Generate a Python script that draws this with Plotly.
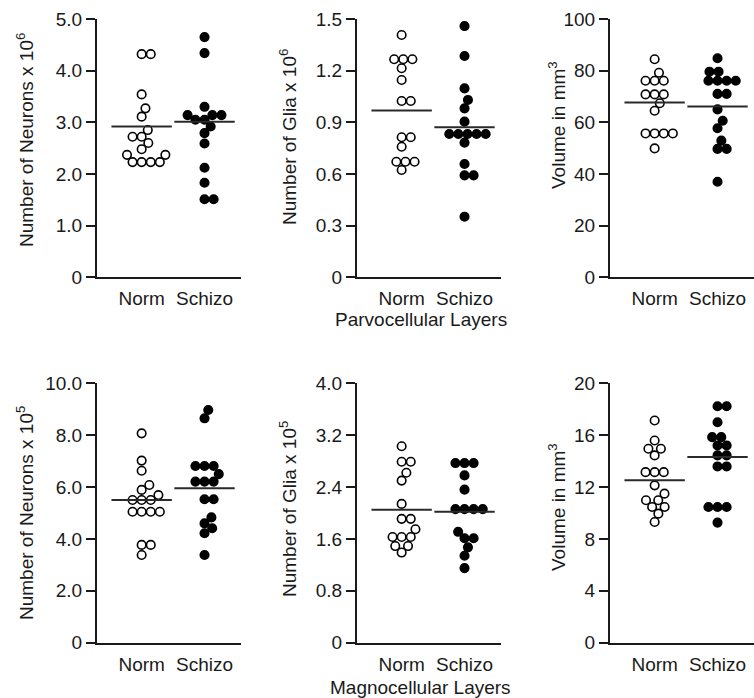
import math
import plotly.graph_objects as go

W, H = 754, 698

categories = ["Norm", "Schizo"]

# Parvocellular layers (top row)
parvo_neurons_norm = [4.32, 4.32, 3.54, 3.27, 3.11, 2.85, 2.72, 2.72, 2.60, 2.48, 2.37, 2.37, 2.23, 2.23, 2.23, 2.23]
parvo_neurons_schizo = [4.65, 4.34, 3.30, 3.14, 3.14, 3.14, 3.05, 3.05, 2.92, 2.79, 2.59, 2.12, 1.83, 1.51, 1.51]
parvo_glia_norm = [1.407, 1.266, 1.266, 1.266, 1.214, 1.146, 1.024, 1.024, 0.813, 0.813, 0.758, 0.671, 0.671, 0.671, 0.623]
parvo_glia_schizo = [1.459, 1.285, 1.097, 1.030, 0.981, 0.904, 0.832, 0.832, 0.832, 0.832, 0.832, 0.782, 0.658, 0.592, 0.592, 0.352]
parvo_volume_norm = [84.4, 79.2, 76.1, 76.1, 76.1, 70.8, 70.8, 70.8, 67.4, 64.5, 55.7, 55.7, 55.7, 55.7, 49.9]
parvo_volume_schizo = [84.8, 79.6, 79.6, 76.1, 76.1, 76.1, 76.1, 71.0, 71.0, 65.0, 60.6, 57.7, 52.9, 49.7, 49.7, 37.0]

# Magnocellular layers (bottom row)
magno_neurons_norm = [8.07, 7.02, 6.63, 6.08, 5.89, 5.69, 5.50, 5.50, 5.50, 5.05, 5.05, 5.05, 5.05, 3.77, 3.77, 3.38]
magno_neurons_schizo = [8.97, 8.65, 6.81, 6.81, 6.81, 6.50, 6.21, 6.21, 6.21, 5.53, 5.53, 4.83, 4.60, 4.41, 4.22, 3.38]
magno_glia_norm = [3.03, 2.79, 2.79, 2.62, 2.50, 2.14, 1.91, 1.91, 1.75, 1.63, 1.63, 1.63, 1.49, 1.49, 1.39]
magno_glia_schizo = [2.77, 2.77, 2.77, 2.58, 2.36, 2.06, 2.06, 2.06, 2.06, 1.71, 1.61, 1.61, 1.47, 1.34, 1.15]
magno_volume_norm = [17.13, 15.59, 14.95, 14.95, 14.44, 13.15, 13.15, 13.15, 12.13, 11.49, 10.98, 10.98, 10.46, 10.46, 9.95, 9.31]
magno_volume_schizo = [18.23, 18.23, 17.0, 15.85, 15.85, 15.21, 15.21, 14.44, 14.44, 13.59, 13.59, 10.46, 10.46, 10.46, 9.26]

# Group means (horizontal lines): [Norm, Schizo]
parvo_neurons_mean = [2.92, 3.01]
parvo_glia_mean = [0.968, 0.871]
parvo_volume_mean = [67.7, 66.1]
magno_neurons_mean = [5.50, 5.95]
magno_glia_mean = [2.05, 2.02]
magno_volume_mean = [12.52, 14.31]

# Tick labels
parvo_neurons_ticks = ["0", "1.0", "2.0", "3.0", "4.0", "5.0"]
parvo_glia_ticks = ["0", "0.3", "0.6", "0.9", "1.2", "1.5"]
parvo_volume_ticks = ["0", "20", "40", "60", "80", "100"]
magno_neurons_ticks = ["0", "2.0", "4.0", "6.0", "8.0", "10.0"]
magno_glia_ticks = ["0", "0.8", "1.6", "2.4", "3.2", "4.0"]
magno_volume_ticks = ["0", "4", "8", "12", "16", "20"]

y_titles = [
    "Number of Neurons x 10<sup>6</sup>",
    "Number of Glia x 10<sup>6</sup>",
    "Volume in mm<sup>3</sup>",
    "Number of Neurons x 10<sup>5</sup>",
    "Number of Glia x 10<sup>5</sup>",
    "Volume in mm<sup>3</sup>",
]
row_titles = ["Parvocellular Layers", "Magnocellular Layers"]

panels = [
    (parvo_neurons_norm, parvo_neurons_schizo, parvo_neurons_mean, parvo_neurons_ticks),
    (parvo_glia_norm, parvo_glia_schizo, parvo_glia_mean, parvo_glia_ticks),
    (parvo_volume_norm, parvo_volume_schizo, parvo_volume_mean, parvo_volume_ticks),
    (magno_neurons_norm, magno_neurons_schizo, magno_neurons_mean, magno_neurons_ticks),
    (magno_glia_norm, magno_glia_schizo, magno_glia_mean, magno_glia_ticks),
    (magno_volume_norm, magno_volume_schizo, magno_volume_mean, magno_volume_ticks),
]

# Layout geometry (pixels)
col_left = [97, 357, 610]
axis_w = 144
row_top = [19, 383.3]
row_bottom = [277.3, 642.7]
XR = [0.29, 2.58]
title_x = [25, 288, 557]
title_y = [[140, 137, 125], [513, 509, 507]]
FONT = "Liberation Sans, Arial, sans-serif"
DARK = "#1a1a1a"
FS = 19
MS = 8.5


def swarm_offsets(values, px_per_y, px_per_x, d):
    order = sorted(range(len(values)), key=lambda i: values[i])
    placed = []
    offs = [0.0] * len(values)
    for i in order:
        y = values[i] * px_per_y
        cands = [0.0]
        for (px, py) in placed:
            dy = y - py
            if abs(dy) < d:
                dx = math.sqrt(d * d - dy * dy)
                cands += [px + dx, px - dx]
        cands.sort(key=lambda c: (round(abs(c), 6), -c))
        for c in cands:
            if all((c - px) ** 2 + (y - py) ** 2 >= d * d - 1e-6 for (px, py) in placed):
                placed.append((c, y))
                offs[i] = c / px_per_x
                break
    return offs


fig = go.Figure()
layout = dict(
    template="none",
    width=W, height=H,
    margin=dict(l=0, r=0, t=0, b=0, pad=0),
    paper_bgcolor="white", plot_bgcolor="white",
    showlegend=False,
    font=dict(family=FONT, size=FS, color=DARK),
    annotations=[],
)

for k, (norm, schizo, means, ticks) in enumerate(panels):
    r, c = divmod(k, 3)
    idx = "" if k == 0 else str(k + 1)
    xa, ya = "x" + idx, "y" + idx
    x0 = col_left[c]
    x1 = min(x0 + axis_w, W)
    top, bot = row_top[r], row_bottom[r]
    ymax = float(ticks[-1])
    tickvals = [float(t) for t in ticks]
    px_per_y = (bot - top) / ymax
    px_per_x = axis_w / (XR[1] - XR[0])
    xr = [XR[0], XR[0] + (x1 - x0) / px_per_x]

    for gi, (vals, fill) in enumerate([(norm, "white"), (schizo, "black")]):
        offs = swarm_offsets(vals, px_per_y, px_per_x, MS + 0.6)
        fig.add_trace(go.Scatter(
            x=[gi + 1 + o for o in offs], y=vals, mode="markers",
            xaxis=xa, yaxis=ya, cliponaxis=False,
            marker=dict(size=MS, color=fill, line=dict(color="black", width=1.6)),
            hoverinfo="y",
        ))
        fig.add_trace(go.Scatter(
            x=[gi + 1 - 0.48, gi + 1 + 0.48], y=[means[gi], means[gi]], mode="lines",
            xaxis=xa, yaxis=ya, cliponaxis=False,
            line=dict(color="#2a2a2a", width=2),
            hoverinfo="skip",
        ))

    layout["xaxis" + idx] = dict(
        domain=[x0 / W, x1 / W], range=xr, anchor=ya, automargin=False,
        tickvals=[1, 2], ticktext=categories, ticks="",
        showline=True, linecolor=DARK, linewidth=2,
        showgrid=False, zeroline=False, fixedrange=True,
        tickfont=dict(family=FONT, size=FS, color=DARK),
        ticklabelstandoff=3,
    )
    layout["yaxis" + idx] = dict(
        domain=[1 - bot / H, 1 - top / H], range=[0, ymax], anchor=xa, automargin=False,
        tickvals=tickvals, ticktext=ticks, ticks="outside", ticklen=9,
        tickwidth=2, tickcolor=DARK,
        showline=True, linecolor=DARK, linewidth=2,
        showgrid=False, zeroline=False, fixedrange=True,
        tickfont=dict(family=FONT, size=FS, color=DARK),
    )
    layout["annotations"].append(dict(
        text=y_titles[k], x=title_x[c] / W, y=1 - title_y[r][c] / H,
        xref="paper", yref="paper", xanchor="center", yanchor="middle",
        textangle=-90, showarrow=False,
        font=dict(family=FONT, size=FS, color=DARK),
    ))

for r, (t, py) in enumerate(zip(row_titles, [319, 687])):
    layout["annotations"].append(dict(
        text=t, x=421 / W, y=1 - py / H, xref="paper", yref="paper",
        xanchor="center", yanchor="middle", showarrow=False,
        font=dict(family=FONT, size=FS, color=DARK),
    ))

fig.update_layout(**layout)
fig.write_html(
    "out.html",
    config={"displayModeBar": False},
    post_script="document.body.style.margin='0';document.body.style.overflow='hidden';",
)
